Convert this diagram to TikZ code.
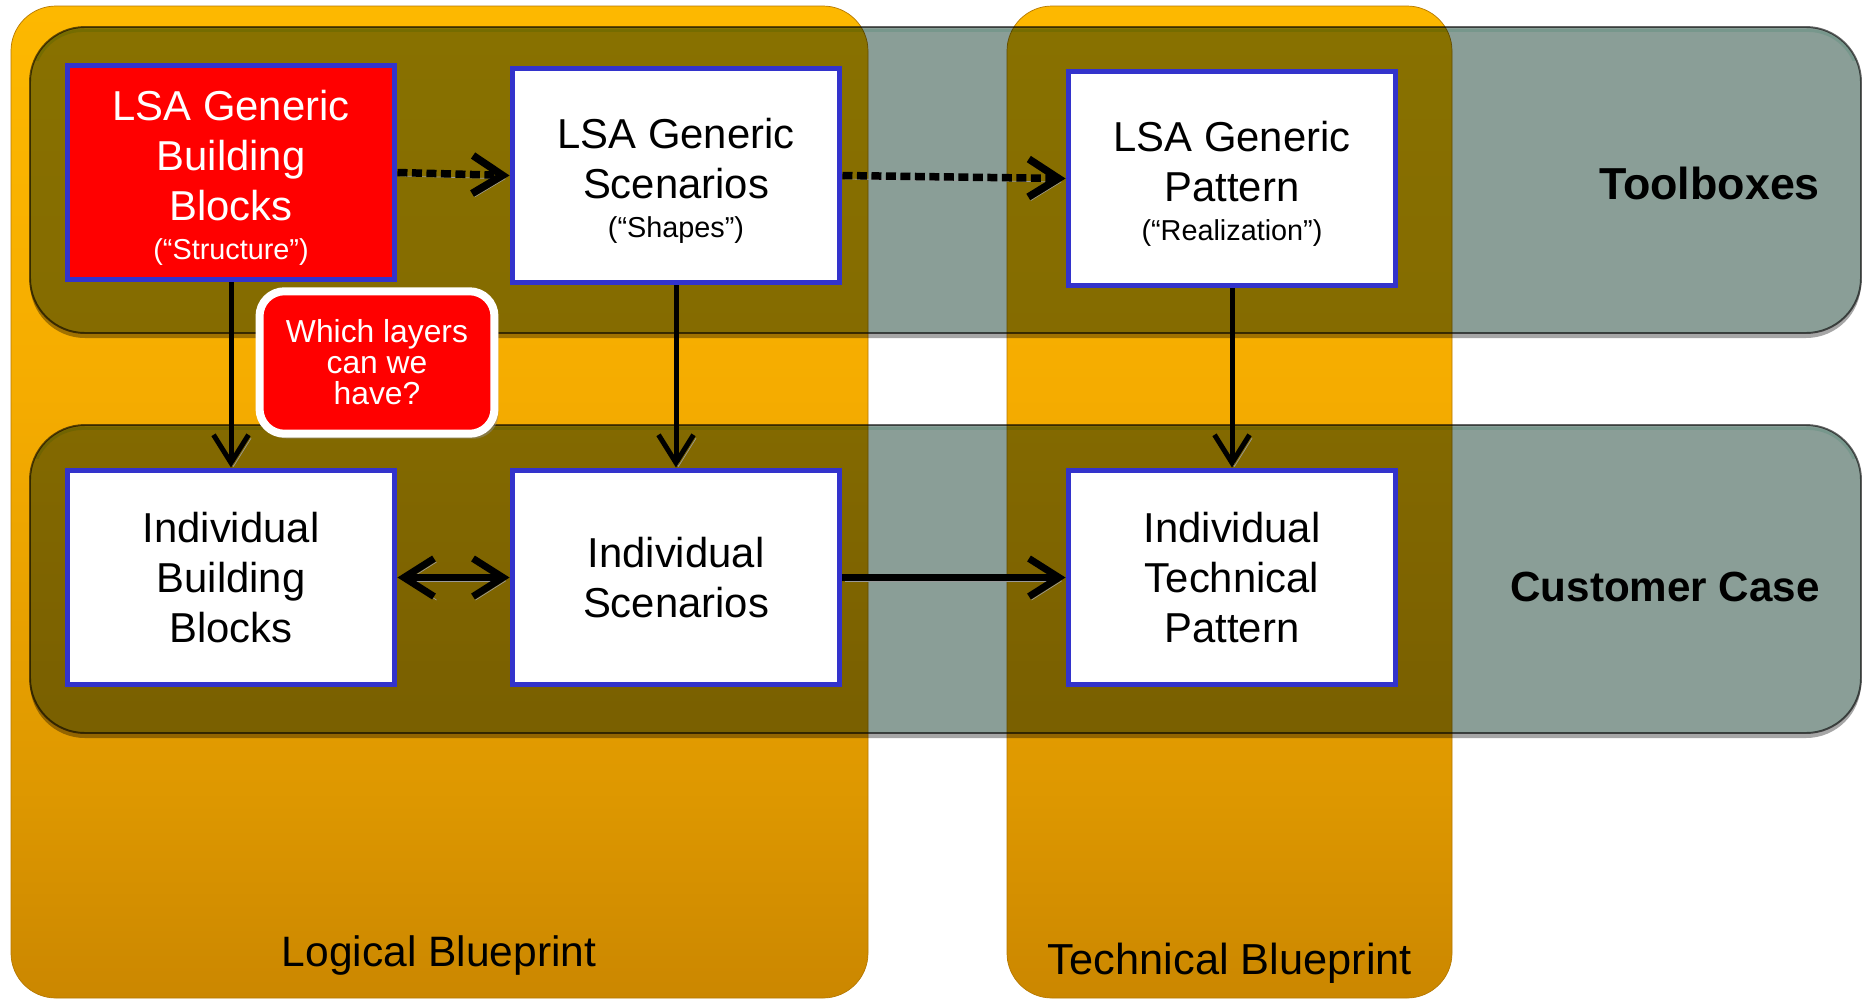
\documentclass[tikz,border=0pt]{standalone}
\usepackage{fontspec}
\setmainfont{Liberation Sans}
\usetikzlibrary{arrows.meta,shadows}
\definecolor{oa}{HTML}{FDB800}
\definecolor{ob}{HTML}{F5AC00}
\definecolor{oc}{HTML}{DE9800}
\definecolor{od}{HTML}{CB8700}
\definecolor{bandgray}{HTML}{8A9E97}
\definecolor{bandedge}{HTML}{666666}
\definecolor{bandhl}{HTML}{DDF5EE}
\definecolor{boxblue}{HTML}{3333CC}
\definecolor{redfill}{HTML}{FF0000}
\pgfdeclareverticalshading{orgshade}{100bp}{color(0bp)=(od); color(25bp)=(od); color(35.5bp)=(oc); color(55.5bp)=(ob); color(75bp)=(oa); color(100bp)=(oa)}
\newcommand\fsz[2]{\fontsize{#1}{#2}\selectfont}
\newcommand\subtxt{\fsz{16.4pt}{20pt}}
\newcommand\topstrut{\rule{0pt}{23.5pt}}
\begin{document}
\begin{tikzpicture}[x=0.02cm,y=-0.02cm,
  column/.style={rounded corners=0.9cm, shading=orgshade, draw=od!90!black, line width=0.4pt},
  band/.style={rounded corners=1.1cm, fill=bandgray, draw=bandedge, line width=1.1pt, blend mode=multiply},
  bandshadow/.style={rounded corners=1.1cm, fill=black!35, blend mode=multiply, even odd rule},
  bandhilite/.style={rounded corners=1.0cm, draw=bandhl, line width=1.6pt, blend mode=multiply},
  blk/.style={draw=boxblue, line width=0.1cm, minimum width=6.56cm, minimum height=4.3cm, inner sep=0pt, align=center, font=\fsz{23.8pt}{28.4pt}},
  callout/.style={fill=redfill, draw=white, line width=0.16cm, rounded corners=0.5cm, minimum width=4.7cm, minimum height=2.85cm, align=center, text=white, font=\fsz{18.1pt}{17.6pt}, drop shadow={shadow xshift=0.08cm, shadow yshift=-0.1cm, fill=black!45}},
  shadowed/.style={preaction={draw=black!40, transform canvas={xshift=0.05cm, yshift=-0.07cm}}},
  vconn/.style={shadowed, line width=0.1cm, -{Straight Barb[length=0.56cm, width=0.7cm]}},
  hconn/.style={shadowed, line width=0.14cm, -{Straight Barb[length=0.6cm, width=0.76cm]}},
  dconn/.style={shadowed, line width=0.14cm, {Straight Barb[length=0.6cm, width=0.76cm]}-{Straight Barb[length=0.6cm, width=0.76cm]}},
  dotconn/.style={shadowed, line width=0.15cm, dash pattern=on 0.2cm off 0.09cm, -{Straight Barb[length=0.6cm, width=0.76cm]}},
  bandlabel/.style={font=\bfseries\fsz{25.5pt}{30pt}},
  collabel/.style={font=\fsz{24.2pt}{29pt}}
]
\useasboundingbox (0,0) rectangle (1863,1002);
\fill[white] (0,0) rectangle (1863,1002);
% columns
\path[column] (11,6) rectangle (868,998);
\path[column] (1007,6) rectangle (1452,998);
% bands (multiplied over columns), with a shadow only below them
\begin{scope}
\clip (0,280) rectangle (1863,350);
\path[bandshadow] (30,32) rectangle (1861,338) (30,27) rectangle (1861,333);
\end{scope}
\path[band] (30,27) rectangle (1861,333);
\begin{scope}
\clip (0,0) rectangle (1863,60);
\path[bandhilite] (33,30.5) rectangle (1858,330);
\end{scope}
\begin{scope}
\clip (0,680) rectangle (1863,750);
\path[bandshadow] (30,430) rectangle (1861,738) (30,425) rectangle (1861,733);
\end{scope}
\path[band] (30,425) rectangle (1861,733);
\begin{scope}
\clip (0,400) rectangle (1863,458);
\path[bandhilite] (33,428.5) rectangle (1858,730);
\end{scope}
% boxes
\node[blk, fill=redfill, text=white] (b1) at (231,172.5) {\topstrut LSA Generic\\Building\\Blocks\\[-6pt]{\subtxt (“Structure”)}};
\node[blk, fill=white] (b2) at (676,175.5) {\topstrut LSA Generic\\Scenarios\\[-6pt]{\subtxt (“Shapes”)}};
\node[blk, fill=white] (b3) at (1232,178.5) {\topstrut LSA Generic\\Pattern\\[-6pt]{\subtxt (“Realization”)}};
\node[blk, fill=white] (b4) at (231,577.5) {Individual\\Building\\Blocks};
\node[blk, fill=white] (b5) at (676,577.5) {Individual\\Scenarios};
\node[blk, fill=white] (b6) at (1232,577.5) {Individual\\Technical\\Pattern};
% callout
\node[callout] (q) at (377,362.5) {Which layers\\can we\\have?};
% labels
\node[bandlabel, anchor=east] (tb) at (1826,183) {Toolboxes};
\node[bandlabel, font=\bfseries\fsz{24pt}{29pt}, anchor=east] (cc) at (1826,587) {Customer Case};
\node[collabel] (lb) at (439,955) {Logical Blueprint};
\node[collabel, font=\fsz{24.7pt}{29pt}] (tbp) at (1230,963) {Technical Blueprint};
% connectors
\draw[dotconn] (b1.east) -- (b2.west);
\draw[dotconn] (b2.east) -- (b3.west);
\draw[vconn] (b1.south) -- (b4.north);
\draw[vconn] (b2.south) -- (b5.north);
\draw[vconn] (b3.south) -- (b6.north);
\draw[dconn] (b4.east) -- (b5.west);
\draw[hconn] (b5.east) -- (b6.west);
\end{tikzpicture}
\end{document}
